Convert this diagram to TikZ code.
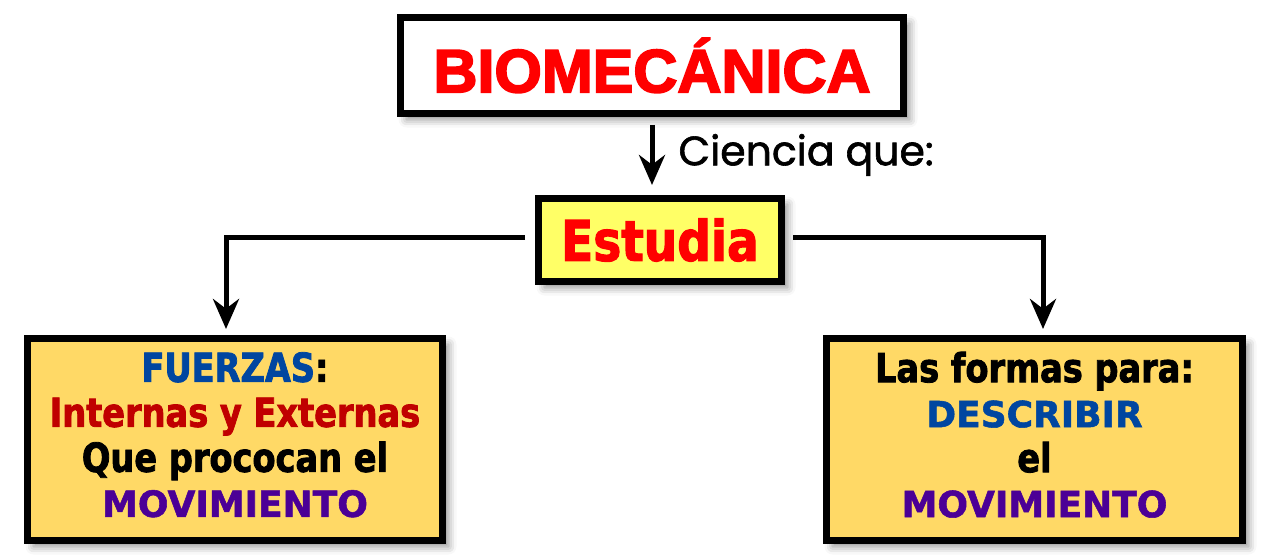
\documentclass[tikz,border=0pt]{standalone}
\usepackage{fontspec}
\setmainfont{DejaVu Sans}
\newfontfamily\titlefont[FakeBold=3]{Liberation Sans}
\newfontfamily\boxfont[FakeStretch=0.84,FakeBold=2]{DejaVu Sans}
\newfontfamily\widefont[FakeBold=1.5]{DejaVu Sans}
\newfontfamily\labelfont[FakeBold=1.5]{Poppins}
\usetikzlibrary{arrows.meta,shadows.blur}
\definecolor{estyellow}{HTML}{FFFF66}
\definecolor{boxgold}{HTML}{FFD966}
\definecolor{txtblue}{HTML}{0046A0}
\definecolor{txtred}{HTML}{C00000}
\definecolor{txtpurple}{HTML}{4B0096}

\begin{document}
\begin{tikzpicture}[x=1pt,y=-1pt,
    box/.style={draw=black, line width=7pt, inner sep=0pt,
      blur shadow={shadow xshift=6pt, shadow yshift=-6pt, shadow blur radius=8pt, shadow opacity=45}},
    boxtext/.style={font=\boxfont\bfseries\fontsize{40}{45}\selectfont, align=center, text depth=10pt}]
  \useasboundingbox (0,0) rectangle (1268,556);

  \begin{scope}
    \node[box, fill=white, minimum width=503pt, minimum height=96pt] (bio) at (652,65.5)
    {\titlefont\bfseries\fontsize{61}{70}\selectfont\color{red}BIOMECÁNICA};
    \node[box, fill=estyellow, minimum width=243pt, minimum height=83pt] (est) at (660,240)
    {\boxfont\bfseries\fontsize{56}{60}\selectfont\color{red}Estudia};
    \node[box, boxtext, fill=boxgold, minimum width=415pt, minimum height=202pt] (fz) at (235,439.5)
    {{\color{txtblue}FUERZAS}:\\ {\color{txtred}Internas y Externas}\\ Que prococan el\\
      {\widefont\fontsize{36}{45}\selectfont\color{txtpurple}MOVIMIENTO}};
    \node[box, boxtext, fill=boxgold, minimum width=416pt, minimum height=202pt] (desc) at (1034.5,439.5)
    {Las formas para:\\ {\widefont\fontsize{36}{45}\selectfont\color{txtblue}DESCRIBIR}\\ el\\
      {\widefont\fontsize{36}{45}\selectfont\color{txtpurple}MOVIMIENTO}};
  \end{scope}

  \begin{scope}[->, >={Stealth[length=30pt,width=26pt]}, line width=5pt]
    \draw ([yshift=-8pt]bio.south) -- ([yshift=10pt]bio.south |- est.north)
    node[midway, right=24pt, inner sep=0pt, font=\labelfont\fontsize{41}{44}\selectfont] (lbl) {Ciencia que:};
    \draw ([xshift=-10pt,yshift=3pt]est.west) -| ([xshift=-9pt,yshift=6pt]fz.north);
    \draw ([xshift=8pt,yshift=3pt]est.east) -| ([xshift=8.5pt,yshift=6pt]desc.north);
  \end{scope}
\end{tikzpicture}
\end{document}
